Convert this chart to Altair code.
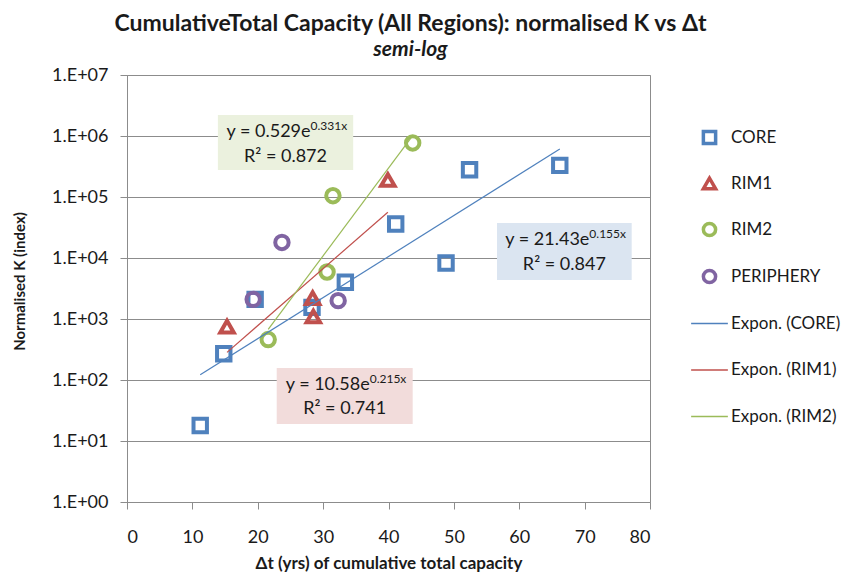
import math
import altair as alt
import pandas as pd

# ---------------- data ----------------
SERIES = ["CORE", "RIM1", "RIM2", "PERIPHERY"]
CORE_X = [11.2, 14.8, 19.6, 28.3, 33.4, 41.1, 48.8, 52.4, 66.2]
CORE_Y = [18, 270, 2100, 1550, 4000, 36000, 8300, 280000, 330000]
RIM1_X = [15.3, 28.4, 28.5, 39.9]
RIM1_Y = [750, 2200, 1100, 190000]
RIM2_X = [21.6, 30.6, 31.5, 43.7]
RIM2_Y = [460, 5900, 105000, 770000]
PERI_X = [19.3, 23.7, 32.3]
PERI_Y = [2100, 18000, 2000]

TREND_SERIES = ["CORE", "RIM1", "RIM2"]
TREND_NAMES = ["Expon. (CORE)", "Expon. (RIM1)", "Expon. (RIM2)"]
TREND_A = [21.43, 10.58, 0.529]
TREND_B = [0.155, 0.215, 0.331]
TREND_R2 = [0.847, 0.741, 0.872]

COLORS = ["#4f81bd", "#c0504d", "#9bbb59", "#8064a2"]
TREND_COLORS = ["#4f81bd", "#c0504d", "#9bbb59"]
SHAPES = ["square", "triangle-up", "circle", "circle"]

Y_TICKS = [1, 10, 100, 1000, 10000, 100000, 1000000, 10000000]
X_TICKS = [0, 10, 20, 30, 40, 50, 60, 70, 80]

# equation boxes (placed in data coordinates): CORE, RIM1, RIM2
BOX_X1 = [56.6, 22.9, 13.9]
BOX_X2 = [77.2, 43.7, 34.6]
BOX_Y1 = [37500, 157, 2210000]
BOX_Y2 = [4350, 19.0, 277000]
EQ_Y = [19700, 82.8, 1160000]
R2_Y = [7670, 33.5, 453000]
BOX_FILL = ["#dbe5f1", "#f2dcdb", "#ebf1de"]

FONT = "Lato"

# ---------------- tables ----------------
xs = {"CORE": CORE_X, "RIM1": RIM1_X, "RIM2": RIM2_X, "PERIPHERY": PERI_X}
ys = {"CORE": CORE_Y, "RIM1": RIM1_Y, "RIM2": RIM2_Y, "PERIPHERY": PERI_Y}
pts = pd.DataFrame(
    [{"x": x, "y": y, "series": s} for s in SERIES for x, y in zip(xs[s], ys[s])]
)

rows = []
for s, name, a, b in zip(TREND_SERIES, TREND_NAMES, TREND_A, TREND_B):
    for x in (min(xs[s]), max(xs[s])):
        rows.append({"x": x, "y": a * math.exp(b * x), "trend": name})
trend = pd.DataFrame(rows)

ann = pd.DataFrame({
    "x": BOX_X1, "x2": BOX_X2, "y": BOX_Y1, "y2": BOX_Y2,
    "xc": [(p + q) / 2 for p, q in zip(BOX_X1, BOX_X2)],
    "eqy": EQ_Y, "r2y": R2_Y, "fill": BOX_FILL,
    "base": [f"y = {a}e" for a in TREND_A],
    "expo": [f"{b}x" for b in TREND_B],
    "r2": [f"R² = {r}" for r in TREND_R2],
})

# ---------------- scales / axes ----------------
color_scale = alt.Scale(domain=SERIES, range=COLORS)
shape_scale = alt.Scale(domain=SERIES, range=SHAPES)
stroke_scale = alt.Scale(domain=TREND_NAMES, range=TREND_COLORS)

pt_legend = alt.Legend(
    title=None, orient="none", legendX=574, legendY=54, padding=0, rowPadding=20,
    symbolSize=150, symbolStrokeWidth=3.5, symbolFillColor="transparent",
    labelOffset=13, labelFont=FONT, labelFontSize=17, labelColor="#1a1a1a",
)
ln_legend = alt.Legend(
    title=None, orient="none", legendX=574, legendY=240, padding=0, rowPadding=28.5,
    symbolType="M-3,0H3", symbolSize=150, symbolStrokeWidth=1.5,
    labelOffset=13, labelFont=FONT, labelFontSize=17, labelColor="#1a1a1a",
)

x_scale = alt.Scale(domain=[0, 80], nice=False, zero=False)
y_scale = alt.Scale(type="log", domain=[1, 1e7], nice=False)

x_axis = alt.Axis(
    values=X_TICKS, grid=False, title="Δt (yrs) of cumulative total capacity",
    tickSize=7, labelPadding=19, titlePadding=9, titleFontSize=17,
)
y_axis = alt.Axis(
    values=Y_TICKS, grid=True, title="Normalised K (index)",
    labelExpr="'1.E+0' + round(log(datum.value) / LN10)",
    tickSize=7, labelPadding=12, titlePadding=24, titleFontSize=15, titleY=206,
)


def X(field="x"):
    return alt.X(f"{field}:Q", scale=x_scale, axis=x_axis)


def Y(field="y"):
    return alt.Y(f"{field}:Q", scale=y_scale, axis=y_axis)


boxes = alt.Chart(ann).mark_rect().encode(
    x=X(), x2="x2:Q", y=Y(), y2="y2:Q",
    fill=alt.Fill("fill:N", scale=None),
)

base_txt = alt.Chart(ann).mark_text(
    font=FONT, fontSize=18, align="right", baseline="middle", dx=25, color="#1a1a1a"
).encode(x=X("xc"), y=Y("eqy"), text="base:N")

exp_txt = alt.Chart(ann).mark_text(
    font=FONT, fontSize=12, align="left", baseline="middle", dx=25, dy=-6, color="#1a1a1a"
).encode(x=X("xc"), y=Y("eqy"), text="expo:N")

r2_txt = alt.Chart(ann).mark_text(
    font=FONT, fontSize=18, align="center", baseline="middle", color="#1a1a1a"
).encode(x=X("xc"), y=Y("r2y"), text="r2:N")

points = alt.Chart(pts).mark_point(filled=False, strokeWidth=4, size=180, opacity=1).encode(
    x=X(), y=Y(),
    color=alt.Color("series:N", scale=color_scale, legend=pt_legend),
    shape=alt.Shape("series:N", scale=shape_scale, legend=pt_legend),
)

lines = alt.Chart(trend).mark_line(strokeWidth=1.2).encode(
    x=X(), y=Y(),
    stroke=alt.Stroke("trend:N", scale=stroke_scale, legend=ln_legend),
)

chart = alt.layer(boxes, points, lines, base_txt, exp_txt, r2_txt).properties(
    width=523, height=427,
    autosize=alt.AutoSizeParams(type="none"),
    padding={"left": 119, "top": 67, "right": 195, "bottom": 71},
    title=alt.TitleParams(
        text="CumulativeTotal Capacity (All Regions): normalised K vs Δt",
        subtitle="semi-log",
        font=FONT, fontSize=23, fontWeight="bold", color="#1a1a1a",
        subtitleFont=FONT, subtitleFontSize=21, subtitleFontStyle="italic",
        subtitleFontWeight="bold", subtitleColor="#1a1a1a", subtitlePadding=3,
        anchor="middle", dx=22, offset=6,
    ),
).configure_view(
    stroke="#8c8c8c", strokeWidth=1
).configure_axis(
    domainColor="#8c8c8c", tickColor="#8c8c8c", gridColor="#8c8c8c",
    labelFont=FONT, labelFontSize=18, labelColor="#1a1a1a",
    titleFont=FONT, titleFontSize=16, titleFontWeight="bold", titleColor="#1a1a1a",
)

chart.save("out.html", embed_options={"renderer": "svg", "actions": False})
